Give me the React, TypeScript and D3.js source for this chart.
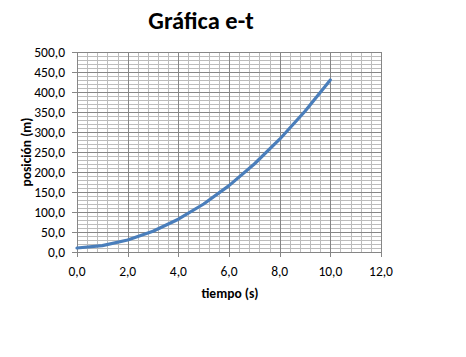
import React from "react";
import * as d3 from "d3";

const tiempo = [0, 1, 2, 3, 4, 5, 6, 7, 8, 9, 10];
const posicion = [10, 16, 30, 52, 82, 120, 166, 220, 282, 352, 430];
const xTicks = [0, 2, 4, 6, 8, 10, 12];
const yTicks = [0, 50, 100, 150, 200, 250, 300, 350, 400, 450, 500];

const W = 466, H = 357;
const L = 77, R = 381, T = 52, B = 252;
const FONT = "Calibri, Carlito, 'Liberation Sans', Arial, sans-serif";

export default function App() {
  const x = d3.scaleLinear().domain([0, 12]).range([L, R]);
  const y = d3.scaleLinear().domain([0, 500]).range([B, T]);
  const fmt = (v: number) => d3.format(".1f")(v).replace(".", ",");
  const xMinor = d3.range(0, 12.0001, 0.4);
  const yMinor = d3.range(0, 500.001, 10);
  const line = d3
    .line<number>()
    .x((_, i) => x(tiempo[i]))
    .y((d) => y(d));

  return (
    <svg
      width={W}
      height={H}
      style={{ position: "absolute", left: 0, top: 0, background: "#fff" }}
      fontFamily={FONT}
    >
      <rect x={0} y={0} width={W} height={H} fill="#fff" />
      <g shapeRendering="crispEdges">
        {xMinor.map((v, i) => (
          <line key={"xm" + i} x1={Math.round(x(v)) + 0.5} x2={Math.round(x(v)) + 0.5} y1={T} y2={B} stroke="#bcbcbc" strokeWidth={1} />
        ))}
        {yMinor.map((v, i) => (
          <line key={"ym" + i} x1={L} x2={R} y1={Math.round(y(v)) + 0.5} y2={Math.round(y(v)) + 0.5} stroke="#bcbcbc" strokeWidth={1} />
        ))}
        {xTicks.map((v) => (
          <line key={"xM" + v} x1={Math.round(x(v)) + 0.5} x2={Math.round(x(v)) + 0.5} y1={T} y2={B + 5} stroke="#868686" strokeWidth={1} />
        ))}
        {yTicks.map((v) => (
          <line key={"yM" + v} x1={L - 5} x2={R} y1={Math.round(y(v)) + 0.5} y2={Math.round(y(v)) + 0.5} stroke="#868686" strokeWidth={1} />
        ))}
      </g>
      <path
        d={line(posicion) || ""}
        fill="none"
        stroke="#4a7ebb"
        strokeWidth={3.2}
        strokeLinejoin="round"
        strokeLinecap="round"
      />
      {yTicks.map((v) => (
        <text key={"yl" + v} x={65} y={y(v) + 5} textAnchor="end" fontSize={13.5} fill="#000">
          {fmt(v)}
        </text>
      ))}
      {xTicks.map((v) => (
        <text key={"xl" + v} x={x(v)} y={276} textAnchor="middle" fontSize={13.5} fill="#000">
          {fmt(v)}
        </text>
      ))}
      <text x={230} y={298} textAnchor="middle" fontSize={13.5} fontWeight="bold" fill="#000">
        tiempo (s)
      </text>
      <text
        transform={`translate(31,${(T + B) / 2}) rotate(-90)`}
        textAnchor="middle"
        fontSize={13.5}
        fontWeight="bold"
        fill="#000"
      >
        posición (m)
      </text>
      <text x={201} y={29} textAnchor="middle" fontSize={24.5} fontWeight="bold" fill="#000">
        Gráfica e-t
      </text>
    </svg>
  );
}
